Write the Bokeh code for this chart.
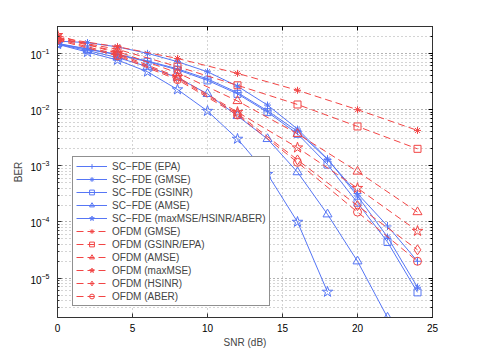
from bokeh.plotting import figure
from bokeh.models import (LinearAxis, LogAxis, FixedTicker, LogTicker, Legend, LegendItem)
from bokeh.embed import file_html
from bokeh.resources import INLINE

# ---- data ----
snr_sc = [0, 2, 4, 6, 8, 10, 12, 14, 16, 18, 20, 22, 24]
sc_epa = [0.150, 0.120, 0.096, 0.073, 0.053, 0.035, 0.020, 0.0095, 0.0041, 0.0013, 3.2e-4, 8.5e-5, 2.0e-5]
sc_gmse = [0.165, 0.155, 0.130, 0.100, 0.071, 0.047, 0.026, 0.0120, 0.0045, 0.00132, 2.9e-4, 5.4e-5, 6.9e-6]
sc_gsinr = [0.148, 0.118, 0.094, 0.071, 0.051, 0.033, 0.019, 0.0090, 0.0037, 0.00105, 2.2e-4, 4.4e-5, 5.6e-6]
sc_amse = [0.146, 0.112, 0.084, 0.058, 0.037, 0.019, 0.0077, 0.0030, 7.7e-4, 1.37e-4, 2.0e-5, 2.0e-6]
sc_maxmse = [0.145, 0.105, 0.076, 0.047, 0.0227, 0.0094, 0.0030, 7.1e-4, 1.0e-4, 5.7e-6]

snr_ofdm = [0, 4, 8, 12, 16, 20, 24]
of_gmse = [0.19, 0.131, 0.081, 0.044, 0.022, 0.00995, 0.00425]
of_gsinr = [0.185, 0.118, 0.058, 0.027, 0.0123, 0.0050, 0.0020]
of_amse = [0.185, 0.108, 0.045, 0.0142, 0.0037, 7.9e-4, 1.5e-4]
of_maxmse = [0.21, 0.100, 0.038, 0.0090, 0.0021, 4.0e-4, 6.9e-5]
of_hsinr = [0.18, 0.095, 0.036, 0.0085, 0.00127, 1.95e-4, 3.2e-5]
of_aber = [0.172, 0.090, 0.034, 0.0080, 0.00115, 1.5e-4, 2.0e-5]

x_ticks = [0, 5, 10, 15, 20, 25]

BLUE = "#5676f5"
RED = "#f24545"
FONT = "Arial"
GRID = "#a8a8a8"

p = figure(y_axis_type="log", x_range=(0, 25), y_range=(2e-6, 0.3),
           frame_width=375, frame_height=291,
           min_border_left=57, min_border_right=45, min_border_top=26, min_border_bottom=33,
           output_backend="svg", toolbar_location=None)
p.background_fill_color = "white"
p.border_fill_color = "white"
p.outline_line_color = "#333333"
p.outline_line_width = 1

# axes styling
p.xaxis.ticker = FixedTicker(ticks=x_ticks)
p.yaxis.ticker = LogTicker(num_minor_ticks=10)
for ax in (p.xaxis[0], p.yaxis[0]):
    ax.major_tick_in = 4
    ax.major_tick_out = 0
    ax.minor_tick_in = 2
    ax.minor_tick_out = 0
    ax.axis_line_color = "#333333"
    ax.major_tick_line_color = "#333333"
    ax.minor_tick_line_color = "#333333"
    ax.major_label_text_font = FONT
    ax.major_label_text_font_size = "10px"
    ax.major_label_text_color = "black"
    ax.axis_label_text_font = FONT
    ax.axis_label_text_font_size = "10px"
    ax.axis_label_text_font_style = "normal"
p.xaxis.minor_tick_line_color = None
p.xaxis.major_label_standoff = 6
p.xaxis.axis_label = "SNR (dB)"
p.xaxis.axis_label_standoff = 2
p.yaxis.axis_label = "BER"
p.yaxis.axis_label_standoff = 3
p.yaxis.major_label_standoff = 8

top_ax = LinearAxis(ticker=FixedTicker(ticks=x_ticks), major_label_text_color=None,
                    major_label_text_font_size="10px", axis_line_color="#333333",
                    major_tick_in=4, major_tick_out=0, minor_tick_line_color=None)
right_ax = LogAxis(ticker=LogTicker(num_minor_ticks=10), major_label_text_color=None,
                   major_label_text_font_size="10px", axis_line_color="#333333",
                   major_tick_in=4, major_tick_out=0, minor_tick_in=2, minor_tick_out=0)
p.add_layout(top_ax, "above")
p.add_layout(right_ax, "right")

# grid
p.xgrid.ticker = FixedTicker(ticks=x_ticks)
p.xgrid.grid_line_color = GRID
p.xgrid.grid_line_dash = "1 3"
p.ygrid.grid_line_color = GRID
p.ygrid.grid_line_dash = "1 3"
p.ygrid.minor_grid_line_color = GRID
p.ygrid.minor_grid_line_dash = "1 3"

items = []

def add_series(x, y, color, marker, label, dash="solid", size=8):
    xs = x[:len(y)]
    ln = p.line(xs, y, line_color=color, line_width=1, line_dash=dash)
    sc = p.scatter(xs, y, marker=marker, size=size, line_color=color, fill_color=None, line_width=1)
    items.append(LegendItem(label=label, renderers=[ln, sc]))

add_series(snr_sc, sc_epa, BLUE, "cross", "SC\u2212FDE (EPA)")
add_series(snr_sc, sc_gmse, BLUE, "asterisk", "SC\u2212FDE (GMSE)", size=7)
add_series(snr_sc, sc_gsinr, BLUE, "square", "SC\u2212FDE (GSINR)", size=7)
add_series(snr_sc, sc_amse, BLUE, "triangle", "SC\u2212FDE (AMSE)", size=9)
add_series(snr_sc, sc_maxmse, BLUE, "star", "SC\u2212FDE (maxMSE/HSINR/ABER)", size=11)
add_series(snr_ofdm, of_gmse, RED, "asterisk", "OFDM (GMSE)", dash="7 4", size=7)
add_series(snr_ofdm, of_gsinr, RED, "square", "OFDM (GSINR/EPA)", dash="7 4", size=7)
add_series(snr_ofdm, of_amse, RED, "triangle", "OFDM (AMSE)", dash="7 4", size=9)
add_series(snr_ofdm, of_maxmse, RED, "star", "OFDM (maxMSE)", dash="7 4", size=11)
add_series(snr_ofdm, of_hsinr, RED, "diamond", "OFDM (HSINR)", dash="7 4", size=10)
add_series(snr_ofdm, of_aber, RED, "circle", "OFDM (ABER)", dash="7 4", size=8)

legend = Legend(items=items, location=(15, 11))
legend.label_text_font = FONT
legend.label_text_font_size = "10px"
legend.label_height = 12
legend.glyph_height = 12
legend.glyph_width = 31
legend.spacing = 1
legend.padding = 3
legend.margin = 0
legend.label_standoff = 5
legend.border_line_color = "#222222"
legend.border_line_width = 1
legend.background_fill_alpha = 1
p.add_layout(legend, "center")

open("out.html", "w").write(file_html(p, INLINE))
